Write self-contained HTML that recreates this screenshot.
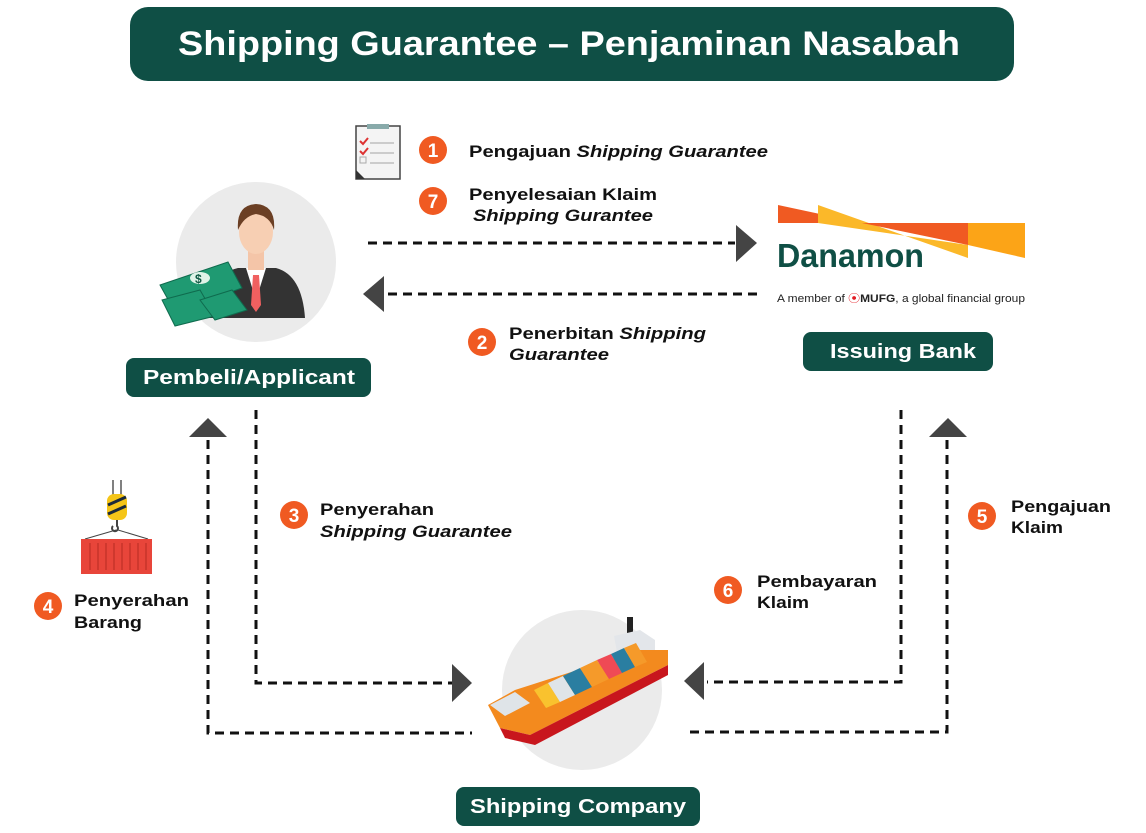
<!DOCTYPE html>
<html><head><meta charset="utf-8"><style>
html,body{margin:0;padding:0;background:#fff}
svg{display:block}
text{font-family:"Liberation Sans",Arial,sans-serif}
</style></head><body>
<svg width="1146" height="833" viewBox="0 0 1146 833" xmlns="http://www.w3.org/2000/svg">
<rect x="130" y="7" width="884" height="74" rx="18" fill="#0f4f45"/>
<text x="178" y="55" font-size="34" font-weight="bold" fill="#fff" textLength="782" lengthAdjust="spacingAndGlyphs">Shipping Guarantee – Penjaminan Nasabah</text>

<circle cx="256" cy="262" r="80" fill="#ebebeb"/>
<circle cx="582" cy="690" r="80" fill="#ebebeb"/>

<path d="M205 318 Q208 275 238 268 L276 268 Q302 275 305 318 Z" fill="#333"/>
<path d="M246 268 L256 300 L266 268 Z" fill="#fff"/>
<path d="M253 275 L259 275 L261 305 L256 312 L251 305 Z" fill="#f06060"/>
<rect x="248" y="245" width="16" height="25" fill="#f4c5a8"/>
<ellipse cx="256" cy="232" rx="17" ry="22" fill="#f7cfb3"/>
<path d="M238 230 Q236 205 256 204 Q276 205 274 230 Q270 216 256 214 Q244 216 238 230Z" fill="#6b3f24"/>
<g fill="#1f9a72" stroke="#0f6b4e" stroke-width="1">
<path d="M160 285 L228 262 L242 288 L175 312 Z"/>
<path d="M162 300 L200 290 L215 316 L175 326 Z"/>
<path d="M200 300 L232 290 L247 310 L215 320 Z"/>
</g>
<ellipse cx="200" cy="278" rx="10" ry="6" fill="#dff3e8"/>
<text x="195" y="283" font-size="12" font-weight="bold" fill="#0f5a45">$</text>

<rect x="356" y="126" width="44" height="53" fill="#f4f4f4" stroke="#444" stroke-width="1.5"/>
<rect x="367" y="124" width="22" height="5" fill="#8aa"/>
<path d="M356 170 L365 179 L356 179Z" fill="#333"/>
<g stroke="#d33" stroke-width="2" fill="none"><path d="M360 141 l3 3 l5 -6"/><path d="M360 151 l3 3 l5 -6"/></g>
<rect x="360" y="157" width="6" height="6" fill="none" stroke="#aaa"/>
<g stroke="#ccc" stroke-width="2"><line x1="370" y1="143" x2="394" y2="143"/><line x1="370" y1="153" x2="394" y2="153"/><line x1="370" y1="163" x2="394" y2="163"/></g>

<polygon points="778,205 862,223 778,223" fill="#f05a22"/>
<polygon points="818,205 968,258 968,245 818,223" fill="#fbb829"/>
<polygon points="862,223 968,223 968,245" fill="#f05a22"/>
<polygon points="968,223 1025,223 1025,258 968,245" fill="#fca417"/>
<text x="777" y="267" font-size="33" font-weight="bold" fill="#0f4f45" textLength="147" lengthAdjust="spacingAndGlyphs">Danamon</text>
<text x="777" y="302" font-size="11" fill="#222" textLength="248" lengthAdjust="spacingAndGlyphs">A member of <tspan fill="#e31b23">⦿</tspan><tspan font-weight="bold">MUFG</tspan>, a global financial group</text>

<rect x="126" y="358" width="245" height="39" rx="8" fill="#0f4f45"/>
<text x="143" y="384" font-size="20" font-weight="bold" fill="#fff" textLength="212" lengthAdjust="spacingAndGlyphs">Pembeli/Applicant</text>
<rect x="803" y="332" width="190" height="39" rx="8" fill="#0f4f45"/>
<text x="830" y="358" font-size="20" font-weight="bold" fill="#fff" textLength="146" lengthAdjust="spacingAndGlyphs">Issuing Bank</text>
<rect x="456" y="787" width="244" height="39" rx="8" fill="#0f4f45"/>
<text x="470" y="813" font-size="20" font-weight="bold" fill="#fff" textLength="216" lengthAdjust="spacingAndGlyphs">Shipping Company</text>

<g stroke="#111" stroke-width="3" fill="none" stroke-dasharray="9,6">
<line x1="368" y1="243" x2="735" y2="243"/>
<line x1="388" y1="294" x2="762" y2="294"/>
<polyline points="256,410 256,683 452,683"/>
<polyline points="208,440 208,733 472,733"/>
<polyline points="901,410 901,682 707,682"/>
<polyline points="947,440 947,732 685,732"/>
</g>
<g fill="#444">
<polygon points="736,225 757,243 736,262"/>
<polygon points="384,276 363,294 384,312"/>
<polygon points="452,664 472,683 452,702"/>
<polygon points="704,662 684,681 704,700"/>
<polygon points="189,437 208,418 227,437"/>
<polygon points="929,437 948,418 967,437"/>
</g>

<line x1="113" y1="480" x2="113" y2="495" stroke="#555" stroke-width="1.5"/>
<line x1="121" y1="480" x2="121" y2="495" stroke="#555" stroke-width="1.5"/>
<rect x="107" y="494" width="20" height="26" rx="7" fill="#f5c518"/>
<g stroke="#1b2a3a" stroke-width="3"><line x1="108" y1="505" x2="126" y2="497"/><line x1="108" y1="514" x2="126" y2="506"/></g>
<path d="M117 520 v6 a3 3 0 1 1 -4 0" stroke="#444" stroke-width="2" fill="none"/>
<line x1="85" y1="539" x2="116" y2="530" stroke="#444"/><line x1="148" y1="539" x2="118" y2="530" stroke="#444"/>
<rect x="81" y="539" width="71" height="35" fill="#e8453a"/>
<g stroke="#c7342a" stroke-width="1.5"><line x1="90" y1="543" x2="90" y2="570"/><line x1="98" y1="543" x2="98" y2="570"/><line x1="106" y1="543" x2="106" y2="570"/><line x1="114" y1="543" x2="114" y2="570"/><line x1="122" y1="543" x2="122" y2="570"/><line x1="130" y1="543" x2="130" y2="570"/><line x1="138" y1="543" x2="138" y2="570"/><line x1="146" y1="543" x2="146" y2="570"/></g>

<rect x="627" y="617" width="6" height="20" fill="#222"/>
<polygon points="614,636 640,630 655,640 655,665 620,668" fill="#e3e6ea"/>
<polygon points="488,705 515,690 640,650 668,650 668,665 530,735 500,728" fill="#f38a1e"/>
<polygon points="500,728 530,735 668,665 668,675 535,745 505,738" fill="#c8161d"/>
<polygon points="534,690 548,683 560,702 546,708" fill="#f9c22e"/>
<polygon points="548,683 563,676 575,695 560,702" fill="#dfe4e8"/>
<polygon points="563,676 580,668 592,687 575,695" fill="#2a7ea1"/>
<polygon points="580,668 597,660 609,679 592,687" fill="#f59a2a"/>
<polygon points="597,660 611,654 622,673 609,679" fill="#ef4a55"/>
<polygon points="611,654 624,648 635,667 622,673" fill="#2a7ea1"/>
<polygon points="624,648 636,643 647,662 635,667" fill="#f59a2a"/>
<polygon points="490,705 515,692 530,703 505,716" fill="#dfe4e8"/>

<g fill="#f05a22">
<circle cx="433" cy="150" r="14"/><circle cx="433" cy="201" r="14"/><circle cx="482" cy="342" r="14"/>
<circle cx="294" cy="515" r="14"/><circle cx="48" cy="606" r="14"/><circle cx="982" cy="516" r="14"/><circle cx="728" cy="590" r="14"/>
</g>
<g fill="#fff" font-size="19" font-weight="bold" text-anchor="middle">
<text x="433" y="157">1</text><text x="433" y="208">7</text><text x="482" y="349">2</text>
<text x="294" y="522">3</text><text x="48" y="613">4</text><text x="982" y="523">5</text><text x="728" y="597">6</text>
</g>

<g font-size="17" font-weight="bold" fill="#111">
<text x="469" y="157" textLength="299" lengthAdjust="spacingAndGlyphs">Pengajuan <tspan font-style="italic">Shipping Guarantee</tspan></text>
<text x="469" y="200" textLength="188" lengthAdjust="spacingAndGlyphs">Penyelesaian Klaim</text>
<text x="473" y="221" font-style="italic" textLength="180" lengthAdjust="spacingAndGlyphs">Shipping Gurantee</text>
<text x="509" y="339" textLength="197" lengthAdjust="spacingAndGlyphs">Penerbitan <tspan font-style="italic">Shipping</tspan></text>
<text x="509" y="360" font-style="italic" textLength="100" lengthAdjust="spacingAndGlyphs">Guarantee</text>
<text x="320" y="515" textLength="114" lengthAdjust="spacingAndGlyphs">Penyerahan</text>
<text x="320" y="537" font-style="italic" textLength="192" lengthAdjust="spacingAndGlyphs">Shipping Guarantee</text>
<text x="74" y="606" textLength="115" lengthAdjust="spacingAndGlyphs">Penyerahan</text>
<text x="74" y="628" textLength="68" lengthAdjust="spacingAndGlyphs">Barang</text>
<text x="1011" y="512" textLength="100" lengthAdjust="spacingAndGlyphs">Pengajuan</text>
<text x="1011" y="533" textLength="52" lengthAdjust="spacingAndGlyphs">Klaim</text>
<text x="757" y="587" textLength="120" lengthAdjust="spacingAndGlyphs">Pembayaran</text>
<text x="757" y="608" textLength="52" lengthAdjust="spacingAndGlyphs">Klaim</text>
</g>
</svg>
</body></html>
